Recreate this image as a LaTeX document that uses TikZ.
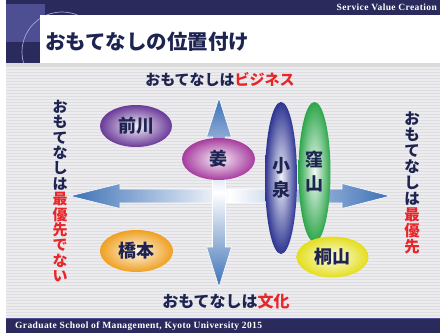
\documentclass[tikz,border=0pt]{standalone}
\usepackage{fontspec}
\newfontfamily\jp{Noto Sans CJK JP}
\newfontfamily\ser{Liberation Serif}[LetterSpace=4]
\usetikzlibrary{shapes.geometric}
\definecolor{navy}{HTML}{2B2A5C}
\definecolor{lightnavy}{HTML}{4E4E92}
\definecolor{arcc}{HTML}{A6A6D6}
\definecolor{bgc}{HTML}{ECECEE}
\definecolor{stripec}{HTML}{DEDEE2}
\definecolor{txt}{HTML}{1E2452}
\definecolor{redt}{HTML}{E8262A}
\definecolor{arrowblue}{HTML}{3C70B6}
\definecolor{cpurple}{HTML}{6A3A98}
\definecolor{cmagenta}{HTML}{A63C9E}
\definecolor{cblue}{HTML}{2E3592}
\definecolor{cgreen}{HTML}{2EA64C}
\definecolor{cyellow}{HTML}{E4DE1C}
\definecolor{corange}{HTML}{EFA020}
\tikzset{
  oval/.style={ellipse, inner sep=0pt, font=\jp\bfseries\fontsize{18}{24}\selectfont, text=txt, align=center},
  lab/.style={font=\jp\bfseries\fontsize{15}{15}\selectfont, text=txt, inner sep=0pt},
  vlab/.style={font=\jp\bfseries\fontsize{15}{15.4}\selectfont, text=txt, inner sep=0pt, align=center},
  arrowshape/.style={draw=white, line width=0.6pt}
}
\begin{document}
\begin{tikzpicture}[x=1pt,y=-1pt]
\useasboundingbox (0,0) rectangle (440,333);
\fill[white] (0,0) rectangle (440,333);
% striped background
\fill[bgc] (6,63) rectangle (440,318);
\foreach \i in {0,...,84} \draw[stripec, line width=0.9pt] (6,66+3*\i) -- (440,66+3*\i);
% header
\fill[navy] (6,0) rectangle (440,15);
\fill[navy] (6,0) rectangle (40,65);
\fill[lightnavy] (6,4) rectangle (45,42);
\begin{scope}
\clip (6,0) rectangle (440,15) (6,0) rectangle (40,65);
\draw[arcc, line width=0.7pt] (62,52) circle (40);
\draw[arcc, line width=0.7pt] (48,96) circle (33);
\end{scope}
\fill[white] (40,15) rectangle (440,63);
\fill[black!14] (6,63) rectangle (440,67);
\node[anchor=east, text=white, font=\ser\bfseries\fontsize{9.5}{9.5}\selectfont, inner sep=0pt] (svc) at (437,7.5) {Service Value Creation};
\node[anchor=west, text=txt, font=\jp\bfseries\fontsize{20.5}{21}\selectfont, inner sep=0pt] (title) at (45,42) {おもてなしの位置付け};
% footer
\fill[navy] (6,318) rectangle (440,333);
\draw[lightnavy, line width=0.8pt] (6,318.5) -- (440,318.5);
\node[anchor=west, text=white, font=\ser\bfseries\fontsize{9.5}{9.5}\selectfont, inner sep=0pt] (foot) at (15,326.5) {Graduate School of Management, Kyoto University 2015};
% arrows
\shade[arrowshape, left color=arrowblue, right color=arrowblue, middle color=white]
 (70,196) -- (120,183.5) -- (120,189) -- (342,189) -- (342,183.5) -- (390,196)
 -- (342,208.5) -- (342,203) -- (120,203) -- (120,208.5) -- cycle;
\shade[arrowshape, top color=arrowblue, bottom color=arrowblue, middle color=white]
 (219,98) -- (231.5,137) -- (225.5,137) -- (225.5,247) -- (231.5,247) -- (219,287)
 -- (206.5,247) -- (212.5,247) -- (212.5,137) -- (206.5,137) -- cycle;
% ovals
\node[oval, minimum width=72, minimum height=42, inner color=cpurple!8, outer color=cpurple] (maekawa) at (136,126) {前川};
\node[oval, minimum width=73, minimum height=42, inner color=cmagenta!8, outer color=cmagenta] (kyo) at (218.5,159) {姜};
\node[oval, minimum width=32, minimum height=152, inner color=cblue!6, outer color=cblue] (koizumi) at (281,178) {小\\泉};
\node[oval, minimum width=32, minimum height=140, inner color=cgreen!6, outer color=cgreen] (kuboyama) at (314.5,172) {窪\\山};
\node[oval, minimum width=72, minimum height=41, inner color=cyellow!8, outer color=cyellow] (kiriyama) at (332.5,257) {桐山};
\node[oval, minimum width=73, minimum height=42, inner color=corange!8, outer color=corange] (hashimoto) at (136.5,251) {橋本};
% axis labels
\node[lab] (top) at (220,80) {おもてなしは\textcolor{redt}{ビジネス}};
\node[lab, font=\jp\bfseries\fontsize{16}{16}\selectfont] (bottom) at (226,301) {おもてなしは\textcolor{redt}{文化}};
\node[vlab] (left) at (60,191) {お\\も\\て\\な\\し\\は\\\textcolor{redt}{最}\\\textcolor{redt}{優}\\\textcolor{redt}{先}\\\textcolor{redt}{で}\\\textcolor{redt}{な}\\\textcolor{redt}{い}};
\node[vlab, font=\jp\bfseries\fontsize{15.5}{16.1}\selectfont] (right) at (412,183) {お\\も\\て\\な\\し\\は\\\textcolor{redt}{最}\\\textcolor{redt}{優}\\\textcolor{redt}{先}};
\end{tikzpicture}
\end{document}
